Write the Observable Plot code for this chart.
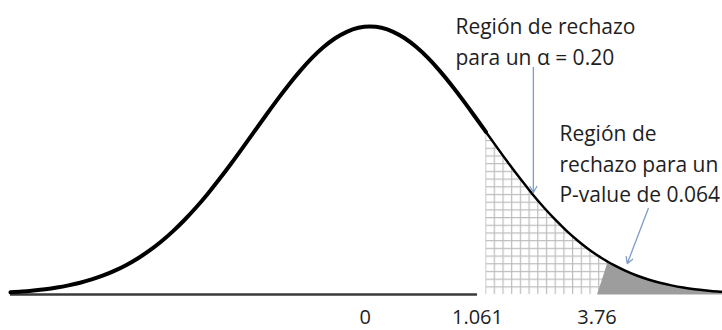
<!DOCTYPE html>
<html><head><meta charset="utf-8">
<script src="https://cdn.jsdelivr.net/npm/d3@7"></script>
<script src="https://cdn.jsdelivr.net/npm/@observablehq/plot@0.6"></script>
<style>body{margin:0;background:#fff} #chart svg{display:block}</style>
</head><body><div id="chart"></div>
<script>
// Curve values (z position, height of density)
const zValues = [-3.1,-3.0,-2.9,-2.8,-2.7,-2.6,-2.5,-2.4,-2.3,-2.2,-2.1,-2.0,-1.9,-1.8,-1.7,-1.6,-1.5,-1.4,-1.3,-1.2,-1.1,-1.0,-0.9,-0.8,-0.7,-0.6,-0.5,-0.4,-0.3,-0.2,-0.1,0,0.1,0.2,0.3,0.4,0.5,0.6,0.7,0.8,0.9,1.0,1.1,1.2,1.3,1.4,1.5,1.6,1.7,1.8,1.9,2.0,2.05,2.1,2.2,2.3,2.4,2.5,2.6,2.7,2.8,2.9,3.0,3.1];
const density = [0.0033,0.0044,0.0060,0.0079,0.0104,0.0136,0.0175,0.0224,0.0283,0.0355,0.0440,0.0540,0.0656,0.0790,0.0940,0.1109,0.1295,0.1497,0.1714,0.1942,0.2179,0.2420,0.2661,0.2897,0.3123,0.3332,0.3521,0.3683,0.3814,0.3910,0.3970,0.3989,0.3970,0.3910,0.3814,0.3683,0.3521,0.3332,0.3123,0.2897,0.2661,0.2420,0.2179,0.1942,0.1714,0.1497,0.1295,0.1109,0.0940,0.0790,0.0656,0.0540,0.0488,0.0440,0.0355,0.0283,0.0224,0.0175,0.0136,0.0104,0.0079,0.0060,0.0044,0.0033];

// Tick labels and where they sit along the curve
const tickZ = [-0.04, 0.927, 1.958];
const tickLabels = ["0", "1.061", "3.76"];

// Region bounds
const hatchStartZ = 1.0;
const grayTopZ = 2.05;

// Annotations
const annotationText = ["Región de rechazo\npara un α = 0.20", "Región de\nrechazo para un\nP-value de 0.064"];
const annotationZ = [0.737, 1.634];
const annotationD = [0.4197, 0.2605];
const arrowFromZ = [1.409, 2.400];
const arrowFromD = [0.3379, 0.1280];
const arrowToZ = [1.409, 2.219];
const arrowToD = [0.1518, 0.0461];

const curve = zValues.map((z, i) => ({z, d: density[i]}));
const hatch = curve.filter(p => p.z >= hatchStartZ);
const gray = [{z: tickZ[2], d: 0}, ...curve.filter(p => p.z >= grayTopZ), {z: zValues[zValues.length - 1], d: 0}];
const notes = annotationText.map((t, i) => ({t, z: annotationZ[i], d: annotationD[i]}));
const arrows = arrowFromZ.map((z, i) => ({z1: z, d1: arrowFromD[i], z2: arrowToZ[i], d2: arrowToD[i]}));
const base = [{y: 0, x1: zValues[0], x2: tickZ[1]}];

const svg = Plot.plot({
  width: 722,
  height: 330,
  marginLeft: 10,
  marginRight: 0,
  marginTop: 26,
  marginBottom: 36,
  style: {fontFamily: "'Open Sans', sans-serif", background: "#fff", color: "#1e1e1e"},
  x: {domain: [-3.1, 3.04]},
  y: {domain: [0, 0.3989], axis: null},
  marks: [
    Plot.areaY(hatch, {x: "z", y: "d", fill: "url(#grid)", curve: "natural"}),
    Plot.line(gray, {x: "z", y: "d", fill: "#9d9d9d", stroke: "none"}),
    Plot.ruleY(base, {y: "y", x1: "x1", x2: "x2", stroke: "#3a3a3a", strokeWidth: 2.5}),
    Plot.line(curve.filter(p => p.z <= hatchStartZ), {x: "z", y: "d", stroke: "#000", strokeWidth: 4, curve: "natural"}),
    Plot.line(curve.filter(p => p.z >= hatchStartZ), {x: "z", y: "d", stroke: "#000", strokeWidth: 2.5, curve: "natural"}),
    Plot.arrow(arrows, {x1: "z1", y1: "d1", x2: "z2", y2: "d2", stroke: "#7d9dc8", strokeWidth: 1.3, headLength: 8}),
    Plot.text(notes, {x: "z", y: "d", text: "t", textAnchor: "start", lineAnchor: "top", lineHeight: 1.45, fontSize: 21, fill: "#1e1e1e"}),
    Plot.axisX({ticks: tickZ, tickFormat: d => tickLabels[tickZ.indexOf(d)], tickSize: 0, tickPadding: 15, fontSize: 20, label: null})
  ]
});

const defs = d3.select(svg).insert("defs", ":first-child");
const pat = defs.append("pattern")
  .attr("id", "grid")
  .attr("patternUnits", "userSpaceOnUse")
  .attr("x", 485).attr("y", 294)
  .attr("width", 8.7).attr("height", 7.7);
pat.append("rect").attr("width", 8.7).attr("height", 7.7).attr("fill", "#fff");
pat.append("path").attr("d", "M0.6 0V7.7M0 0.6H8.7").attr("stroke", "#bdbdbd").attr("stroke-width", 1.2).attr("fill", "none");

document.getElementById("chart").appendChild(svg);
</script>
</body></html>
